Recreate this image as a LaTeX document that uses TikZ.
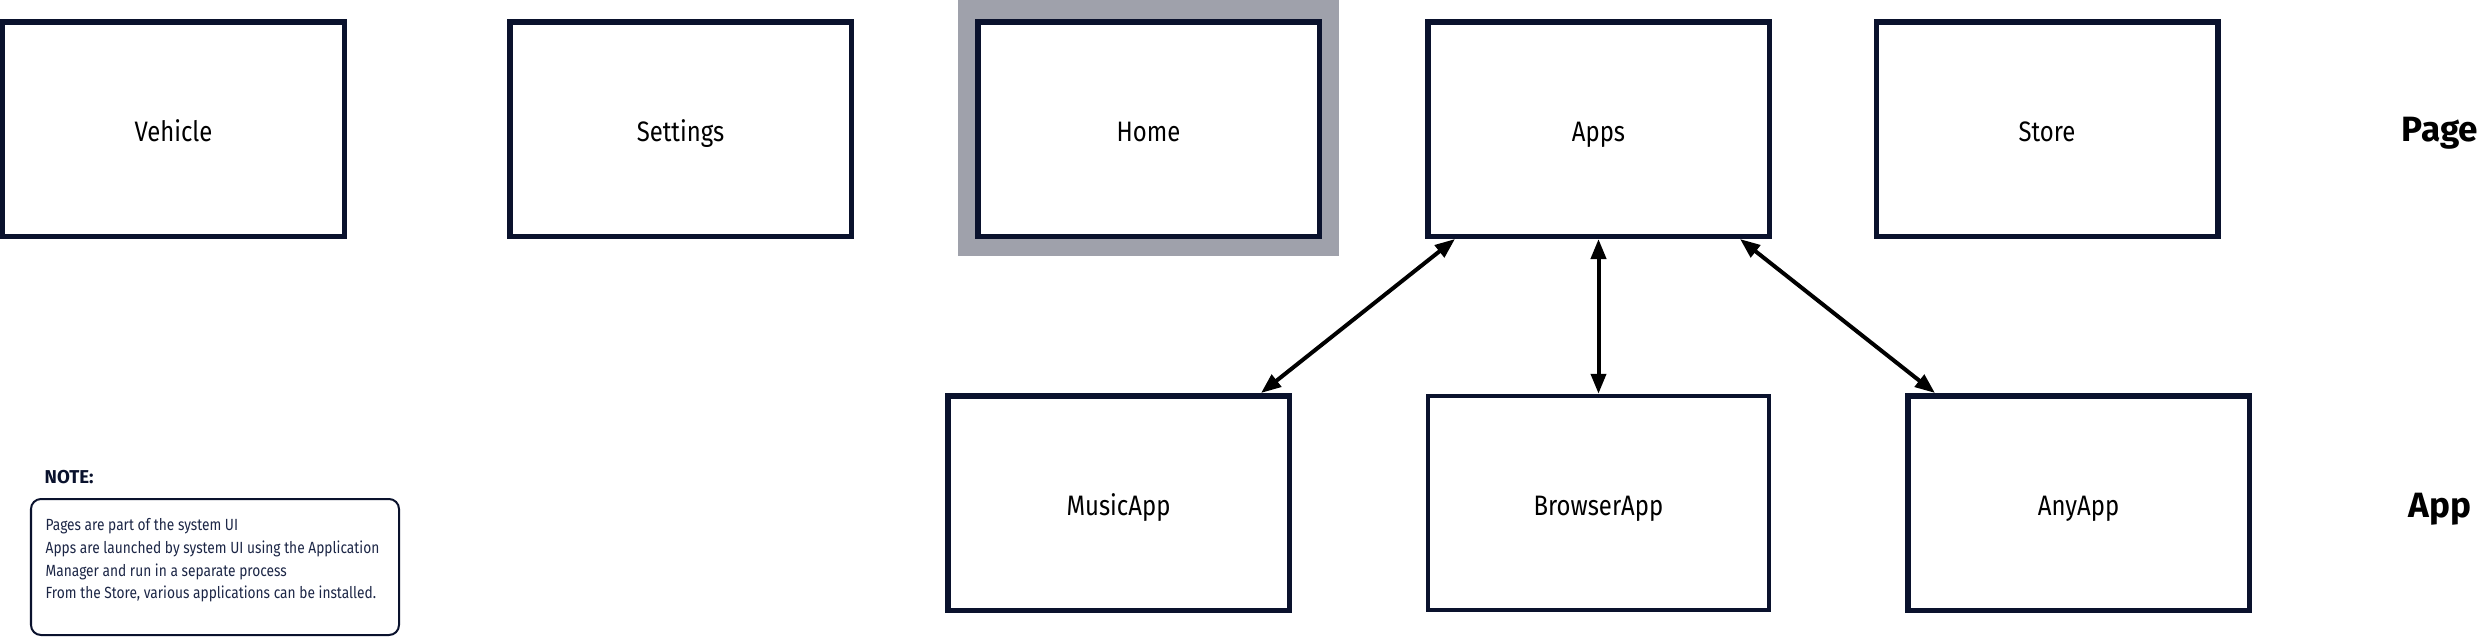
\documentclass[tikz,border=0pt]{standalone}
\usepackage{fontspec}
\setmainfont{Fira Sans}
\newfontfamily\narrowfont{Fira Sans}[FakeStretch=0.85]
\usetikzlibrary{arrows.meta}
\definecolor{boxline}{RGB}{10,18,45}
\definecolor{halogray}{RGB}{159,161,171}
\definecolor{notetext}{RGB}{28,38,70}
\tikzstyle{every link} = []
\tikzstyle{link} = [{Triangle[length=0.2cm,width=0.15cm]}-{Triangle[length=0.2cm,width=0.15cm]}, line width=0.04cm, draw=black, every link]
\tikzstyle{pagebox} = [draw=boxline, line width=0.055cm, fill=white, minimum width=3.415cm, minimum height=2.145cm, text height=1.35ex, text depth=0pt, font=\narrowfont\fontsize{8}{10}\selectfont]
\tikzstyle{appbox} = [pagebox]
\tikzstyle{halo} = [fill=halogray, minimum width=3.81cm, minimum height=2.56cm]
\tikzstyle{rowlabel} = [font=\bfseries\fontsize{10}{12}\selectfont, text=black]
\tikzstyle{notebox} = [draw=boxline, line width=0.02cm, rounded corners=0.1cm, minimum width=3.68cm, minimum height=1.36cm]

\begin{document}
\begin{tikzpicture}
                    \useasboundingbox (0,0) rectangle (24.81,-6.37);
                    \node[halo] (homehalo) at (11.485,-1.28) {};
                    \node[pagebox] (vehicle) at (1.735,-1.29) {Vehicle};
                    \node[pagebox] (settings) at (6.805,-1.29) {Settings};
                    \node[pagebox] (home) at (11.485,-1.29) {Home};
                    \node[pagebox] (apps) at (15.985,-1.29) {Apps};
                    \node[pagebox] (store) at (20.47,-1.29) {Store};

                    \node[appbox] (musicapp) at (11.185,-5.03) {MusicApp};
                    \node[appbox,line width=0.04cm] (browserapp) at (15.985,-5.03) {BrowserApp};
                    \node[appbox] (anyapp) at (20.785,-5.03) {AnyApp};

                    \node[rowlabel] (pagelabel) at (24.40,-1.33) {Page};
                    \node[rowlabel] (applabel) at (24.40,-5.09) {App};

                    \draw[link] ([xshift=0.3cm]apps.south west) -- ([xshift=-0.31cm]musicapp.north east);
                    \draw[link] (apps.south) -- (browserapp.north);
                    \draw[link] ([xshift=-0.32cm]apps.south east) -- ([xshift=0.3cm]anyapp.north west);

                    \node[anchor=west, inner sep=0pt, font=\bfseries\fontsize{5.3}{6}\selectfont, text=boxline] (notehead) at (0.44,-4.77) {NOTE:};
                    \node[notebox] (note) at (2.15,-5.67) {};
                    \node[anchor=north west, align=left, inner sep=0pt, font=\narrowfont\fontsize{4.6}{6.45}\selectfont, text=notetext] (notelines) at (0.45,-5.18)
                    {Pages are part of the system UI\\
                     Apps are launched by system UI using the Application\\
                     Manager and run in a separate process\\
                     From the Store, various applications can be installed.};
                \end{tikzpicture}
\end{document}
